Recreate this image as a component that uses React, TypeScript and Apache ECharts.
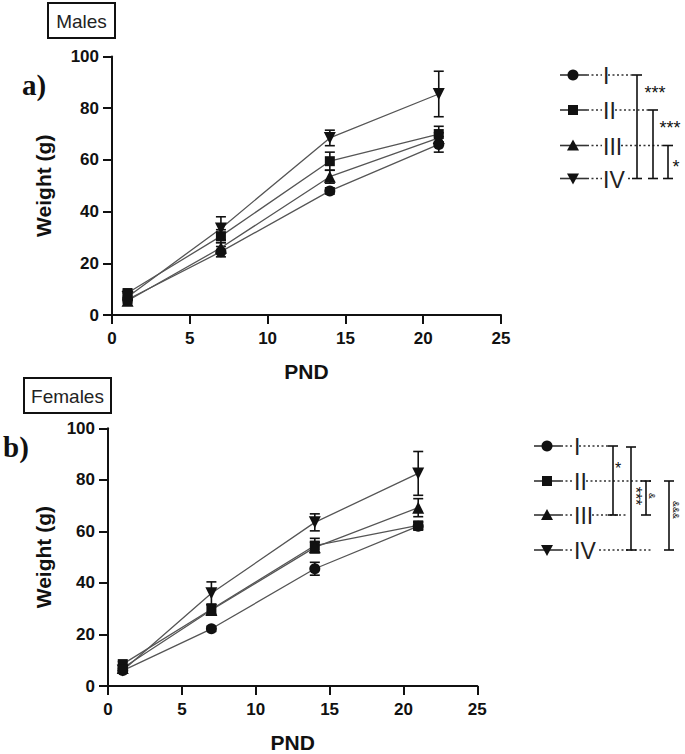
import React, { useEffect, useRef } from "react";
import * as echarts from "echarts";

// ---------- data ----------
const days = [1, 7, 14, 21];
const groupNames = ["I", "II", "III", "IV"];
const xTickStep = 5;
const xMax = 25;
const yTickStep = 20;
const yMax = 100;

// Males (mean, error)
const maleI = [6, 24.5, 48, 66];
const maleIErr = [1, 2, 1.2, 3];
const maleII = [8.5, 30.5, 59.5, 70];
const maleIIErr = [1, 2.5, 3.5, 3];
const maleIII = [5.5, 26, 53.5, 68.5];
const maleIIIErr = [1, 2, 2.5, 2];
const maleIV = [7, 33.5, 68.5, 85.5];
const maleIVErr = [1.2, 4.5, 3, 8.8];

// Females (mean, error)
const femaleI = [6, 22.2, 45.5, 62];
const femaleIErr = [1, 1, 2.5, 1.5];
const femaleII = [8.5, 29.8, 54.5, 62.3];
const femaleIIErr = [1, 2, 2.8, 1.5];
const femaleIII = [7, 29.5, 53.8, 69.2];
const femaleIIIErr = [1, 2, 2, 3.5];
const femaleIV = [6, 36, 63.5, 82.5];
const femaleIVErr = [1, 4.4, 3.3, 8.5];

// significance annotations
const maleSig = ["***", "***", "*"];
const femaleSig = ["*", "***", "&", "&&&"];

const panelTitles = ["Males", "Females"];
const panelLetters = ["a)", "b)"];

// ---------- styling ----------
const INK = "#111";
const LINE = "#555";
const SANS = "'Liberation Sans', Arial, sans-serif";
const SERIF = "'Liberation Serif', 'Times New Roman', serif";

const symbols = ["circle", "rect", "triangle", "triangle"];
const symbolRot = [0, 0, 0, 180];
const symbolSizes = [11, 10, 12, 12];

function axisCommon() {
  return {
    axisLine: { show: true, onZero: false, lineStyle: { color: INK, width: 2 } },
    axisTick: { show: true, inside: false, length: 9, lineStyle: { color: INK, width: 2 } },
    splitLine: { show: false },
    axisLabel: { color: INK, fontFamily: SANS, fontWeight: "bold", fontSize: 17 },
    nameTextStyle: { color: INK, fontFamily: SANS, fontWeight: "bold", fontSize: 21 },
  };
}

function buildSeries(means: number[][], errs: number[][], gridIdx: number): any[] {
  const out: any[] = [];
  means.forEach((m, gi) => {
    const err = errs[gi];
    out.push({
      type: "custom",
      name: groupNames[gi] + "-err-" + gridIdx,
      xAxisIndex: gridIdx,
      yAxisIndex: gridIdx,
      coordinateSystem: "cartesian2d",
      silent: true,
      z: 3,
      data: days.map((d, i) => [d, m[i] - err[i], m[i] + err[i]]),
      encode: { x: 0, y: [1, 2] },
      renderItem: (params: any, api: any) => {
        const lo = api.coord([api.value(0), api.value(1)]);
        const hi = api.coord([api.value(0), api.value(2)]);
        const hw = 5;
        const st = { stroke: INK, lineWidth: 1.6 };
        return {
          type: "group",
          children: [
            { type: "line", shape: { x1: lo[0], y1: lo[1], x2: hi[0], y2: hi[1] }, style: st },
            { type: "line", shape: { x1: hi[0] - hw, y1: hi[1], x2: hi[0] + hw, y2: hi[1] }, style: st },
            { type: "line", shape: { x1: lo[0] - hw, y1: lo[1], x2: lo[0] + hw, y2: lo[1] }, style: st },
          ],
        };
      },
    });
    out.push({
      type: "line",
      name: groupNames[gi],
      xAxisIndex: gridIdx,
      yAxisIndex: gridIdx,
      z: 4,
      data: days.map((d, i) => [d, m[i]]),
      symbol: symbols[gi],
      symbolSize: symbolSizes[gi],
      symbolRotate: symbolRot[gi],
      showAllSymbol: true,
      lineStyle: { color: LINE, width: 1.3 },
      itemStyle: { color: INK, borderWidth: 0 },
      emphasis: { disabled: true },
    });
  });
  return out;
}

function markerGraphic(kind: number, cx: number, cy: number): any {
  const s = { fill: INK };
  if (kind === 0) return { type: "circle", shape: { cx, cy, r: 5.5 }, style: s };
  if (kind === 1) return { type: "rect", shape: { x: cx - 5, y: cy - 5, width: 10, height: 10 }, style: s };
  if (kind === 2)
    return { type: "polygon", shape: { points: [[cx, cy - 6], [cx + 6, cy + 5], [cx - 6, cy + 5]] }, style: s };
  return { type: "polygon", shape: { points: [[cx, cy + 6], [cx + 6, cy - 5], [cx - 6, cy - 5]] }, style: s };
}

function dotted(x1: number, x2: number, y: number): any {
  return {
    type: "line",
    shape: { x1, y1: y, x2, y2: y },
    style: { stroke: "#333", lineWidth: 1.5, lineDash: [2, 2.5] },
  };
}

function bracket(x: number, y1: number, y2: number): any[] {
  const st = { stroke: INK, lineWidth: 1.6 };
  return [
    { type: "line", shape: { x1: x, y1, x2: x, y2 }, style: st },
    { type: "line", shape: { x1: x - 5, y1, x2: x + 5, y2: y1 }, style: st },
    { type: "line", shape: { x1: x - 5, y1: y2, x2: x + 5, y2 }, style: st },
  ];
}

function legendGraphic(
  rowsY: number[],
  markerX: number,
  labelX: number,
  dotEnds: number[],
  labelWidths: number[]
): any[] {
  const els: any[] = [];
  rowsY.forEach((y, i) => {
    els.push({
      type: "line",
      shape: { x1: markerX - 13, y1: y, x2: markerX + 14, y2: y },
      style: { stroke: "#333", lineWidth: 1.6 },
    });
    els.push(markerGraphic(i, markerX, y));
    els.push(dotted(markerX + 14, labelX - 1, y));
    els.push(dotted(labelX + labelWidths[i] + 1, dotEnds[i], y));
    els.push({
      type: "text",
      x: labelX,
      y: y + 1,
      style: {
        text: groupNames[i],
        fontFamily: SANS,
        fontSize: 23,
        fill: "#222",
        align: "left",
        verticalAlign: "middle",
      },
    });
  });
  return els;
}

function starText(text: string, x: number, y: number, size = 18, rotate = false): any {
  return {
    type: "text",
    x,
    y,
    rotation: rotate ? -Math.PI / 2 : 0,
    style: {
      text,
      fontFamily: SANS,
      fontSize: size,
      fill: INK,
      align: "center",
      verticalAlign: "middle",
    },
  };
}

function titleBox(label: string, x: number, y: number, w: number, h: number): any[] {
  return [
    {
      type: "rect",
      shape: { x, y, width: w, height: h },
      style: { fill: "#fff", stroke: INK, lineWidth: 2 },
    },
    {
      type: "text",
      x: x + w / 2,
      y: y + h / 2 + 1,
      style: {
        text: label,
        fontFamily: SANS,
        fontSize: 19,
        fill: "#222",
        align: "center",
        verticalAlign: "middle",
      },
    },
  ];
}

function letterText(t: string, x: number, y: number): any {
  return {
    type: "text",
    x,
    y,
    style: {
      text: t,
      fontFamily: SERIF,
      fontWeight: "bold",
      fontSize: 29,
      fill: INK,
      align: "left",
      verticalAlign: "middle",
    },
  };
}

export default function App() {
  const ref = useRef<HTMLDivElement>(null);

  useEffect(() => {
    document.body.style.margin = "0";
    const el = ref.current;
    if (!el) return;
    const chart = echarts.init(el, undefined, { renderer: "svg" });

    const grids = [
      { left: 112, top: 56.5, width: 389, height: 258.5 },
      { left: 108, top: 428.3, width: 369.3, height: 259 },
    ];

    const xAxes = grids.map((_, i) => ({
      type: "value",
      gridIndex: i,
      min: 0,
      max: xMax,
      interval: xTickStep,
      ...axisCommon(),
      axisLabel: { ...axisCommon().axisLabel, margin: 15 },
      name: "PND",
      nameLocation: "middle",
      nameGap: 46,
    }));

    const yAxes = grids.map((_, i) => ({
      type: "value",
      gridIndex: i,
      min: 0,
      max: yMax,
      interval: yTickStep,
      ...axisCommon(),
      axisLabel: { ...axisCommon().axisLabel, margin: 13 },
      name: "Weight (g)",
      nameLocation: "middle",
      nameRotate: 90,
      nameGap: i === 0 ? 58 : 54,
    }));

    const series = [
      ...buildSeries(
        [maleI, maleII, maleIII, maleIV],
        [maleIErr, maleIIErr, maleIIIErr, maleIVErr],
        0
      ),
      ...buildSeries(
        [femaleI, femaleII, femaleIII, femaleIV],
        [femaleIErr, femaleIIErr, femaleIIIErr, femaleIVErr],
        1
      ),
    ];

    const topRows = [75, 110, 145.5, 178.5];
    const botRows = [446, 481, 515, 550];
    const labelW = [4, 11, 17, 24];

    const graphic: any[] = [
      ...titleBox(panelTitles[0], 48, 3, 67, 35),
      ...titleBox(panelTitles[1], 24, 378, 87, 35),
      letterText(panelLetters[0], 22, 85),
      letterText(panelLetters[1], 3, 447),
      // top legend
      ...legendGraphic(topRows, 573, 603, [632, 648, 663, 630], labelW),
      ...bracket(637, topRows[0], topRows[3]),
      ...bracket(653, topRows[1], topRows[3]),
      ...bracket(668, topRows[2], topRows[3]),
      starText(maleSig[0], 655, 93),
      starText(maleSig[1], 670, 128),
      starText(maleSig[2], 676, 167),
      // bottom legend
      ...legendGraphic(botRows, 547, 574, [608, 653, 628, 653], labelW),
      ...bracket(613, botRows[0], botRows[2]),
      ...bracket(631, botRows[0] + 1, botRows[3]),
      ...bracket(646, botRows[1], botRows[2]),
      ...bracket(669, botRows[1], botRows[3]),
      starText(femaleSig[0], 618, 468, 16),
      starText(femaleSig[1], 635, 496, 16, true),
      starText(femaleSig[2], 652, 496, 9, true),
      starText(femaleSig[3], 676, 510, 9, true),
    ];

    chart.setOption({
      animation: false,
      backgroundColor: "#fff",
      textStyle: { fontFamily: SANS },
      grid: grids.map((g) => ({ ...g, containLabel: false })),
      xAxis: xAxes,
      yAxis: yAxes,
      series,
      graphic,
    });

    return () => chart.dispose();
  }, []);

  return <div ref={ref} style={{ width: 685, height: 754 }} />;
}
